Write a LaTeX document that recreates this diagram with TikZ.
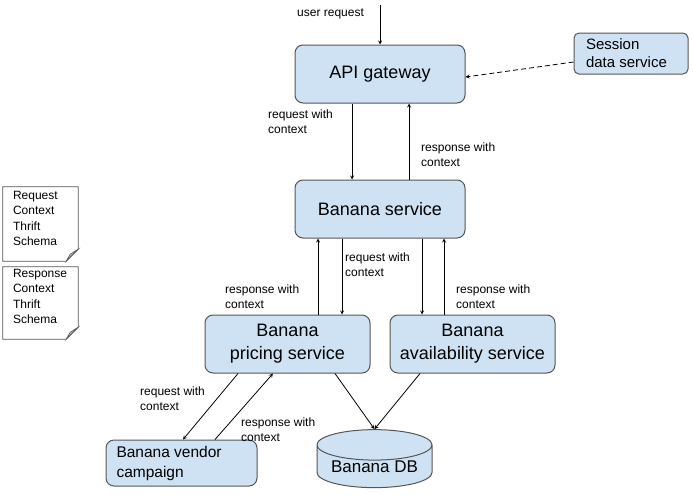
\documentclass[tikz,border=0pt]{standalone}
\usepackage{fontspec}
\setmainfont{Liberation Sans}
\usetikzlibrary{positioning,calc,shapes.geometric}
\definecolor{boxblue}{HTML}{CFE2F3}
\definecolor{edgegray}{HTML}{555555}
\tikzset{
  box/.style={shape=rectangle,draw=edgegray,fill=boxblue,line width=1pt,
    rounded corners=8pt,inner sep=0pt,align=center,
    font=\fontsize{18}{23}\selectfont},
  lbl/.style={inner sep=0pt,align=left,anchor=north west,
    font=\fontsize{12}{15}\selectfont},
  note/.style={inner sep=0pt,font=\fontsize{12}{15.5}\selectfont},
  arr/.style={-stealth,line width=0.8pt}
}

\begin{document}
\begin{tikzpicture}[x=1pt,y=-1pt]
    \useasboundingbox (0,0) rectangle (693,501);
    % services
    \node (api) [box,minimum width=170pt,minimum height=58pt] at (380,74) {API gateway};
    \node (ses) [box,minimum width=114pt,minimum height=41pt,align=left,
      rounded corners=5pt,font=\fontsize{15}{18}\selectfont] at (631,53.5)
      {\parbox{90pt}{Session\\data service}};
    \node (svc) [box,minimum width=170pt,minimum height=58pt] at (380,209) {Banana service};
    \node (pri) [box,minimum width=165pt,minimum height=58pt] at (287.5,344)
      {Banana\\pricing service};
    \node (ava) [box,minimum width=165pt,minimum height=58pt] at (472.5,344)
      {Banana\\availability service};
    \node (ven) [box,minimum width=151pt,minimum height=46pt,align=left,
      font=\fontsize{15.5}{20}\selectfont] at (181.5,463)
      {\parbox{130pt}{Banana vendor\\campaign}};
    \node (db) [shape=cylinder,shape border rotate=90,aspect=0.35,draw=edgegray,
      fill=boxblue,line width=1pt,minimum width=115pt,minimum height=53pt,
      inner sep=0pt,font=\fontsize{17}{20}\selectfont] at (374.5,466.5) {Banana DB};
    % schema notes
    \node (reqnote) [note] at (40.5,224)
      {\parbox[c][74pt][t]{75pt}{\leftskip=10pt\vspace{4pt}Request\\Context\\Thrift\\Schema}};
    \node (resnote) [note] at (40.5,303)
      {\parbox[c][72pt][t]{75pt}{\leftskip=10pt\vspace{2pt}Response\\Context\\Thrift\\Schema}};
    \foreach \n in {reqnote,resnote} {
      \draw [edgegray,line width=0.8pt] (\n.north west) -- (\n.north east)
        -- ([yshift=12pt]\n.south east) -- ([xshift=-12pt]\n.south east)
        -- (\n.south west) -- cycle;
      \filldraw [draw=edgegray,fill=gray!55,line width=0.6pt]
        ([yshift=12pt]\n.south east) -- ([xshift=-8pt,yshift=7pt]\n.south east)
        -- ([xshift=-12pt]\n.south east) -- cycle;
    }
    % connectors
    \coordinate (usr) at (380,5);
    \draw [arr] (usr) -- (api.north);
    \node (usrlbl) [lbl] at (297,9) {user request};
    \draw [arr,dash pattern=on 5pt off 3pt] ([yshift=-8.5pt]ses.west) -- ([yshift=-3pt]api.east);
    \draw [arr] ([xshift=-28pt]api.south) -- ([xshift=-28pt]svc.north);
    \draw [arr] ([xshift=29pt]svc.north) -- ([xshift=29pt]api.south);
    \node (l1) [lbl] at (268,110) {request with\\context};
    \node (l2) [lbl] at (421,143) {response with\\context};
    \draw [arr] ([xshift=30.5pt]pri.north) -- ([xshift=-62pt]svc.south);
    \draw [arr] ([xshift=-38pt]svc.south) -- ([xshift=54.5pt]pri.north);
    \draw [arr] ([xshift=42pt]svc.south) -- ([xshift=-50.5pt]ava.north);
    \draw [arr] ([xshift=-28.5pt]ava.north) -- ([xshift=64pt]svc.south);
    \node (l3) [lbl] at (345,253) {request with\\context};
    \node (l4) [lbl] at (225,285) {response with\\context};
    \node (l5) [lbl] at (456,285) {response with\\context};
    \draw [arr] ([xshift=-49.5pt]pri.south) -- ([xshift=1.5pt]ven.north);
    \draw [arr] ([xshift=33.5pt]ven.north) -- ([xshift=-14.5pt]pri.south);
    \node (l6) [lbl] at (140,387) {request with\\context};
    \node (l7) [lbl] at (241,418) {response with\\context};
    \draw [arr] ([xshift=47.5pt]pri.south) -- (db.north);
    \draw [arr] ([xshift=-52.5pt]ava.south) -- (db.north);
  \end{tikzpicture}
\end{document}
